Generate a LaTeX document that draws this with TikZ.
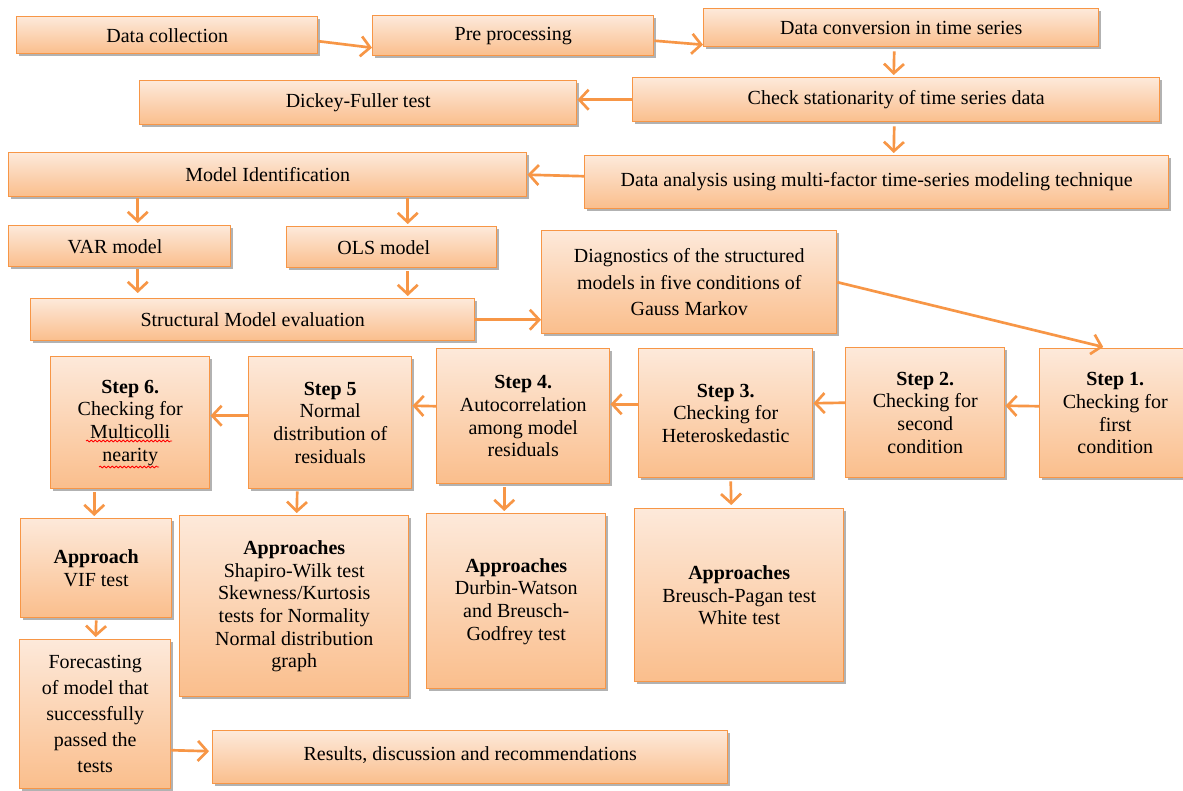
\documentclass[tikz,border=0pt]{standalone}
\usepackage{fontspec}
\setmainfont{Liberation Serif}
\usetikzlibrary{arrows.meta,shadows,calc,decorations.pathmorphing}
\definecolor{obord}{RGB}{247,150,70}
\definecolor{otop}{RGB}{253,233,218}
\definecolor{obot}{RGB}{250,190,140}
\tikzset{
  bx/.style={draw=obord, line width=1.1pt, top color=otop, bottom color=obot,
    align=center, inner sep=2pt, font=\fontsize{15}{17}\selectfont,
    drop shadow={shadow xshift=2pt, shadow yshift=-2pt, opacity=0.3, fill=black}},
  arr/.style={draw=obord, line width=2pt, -{Straight Barb[length=7pt,width=15pt]}},
  squig/.style={draw=red, line width=0.6pt, decorate, decoration={snake, amplitude=0.7pt, segment length=3pt}}
}
\newcommand\mybox[7][]{\node[bx,#1, anchor=north west, minimum width={(#5-#3)*0.75pt}, minimum height={(#6-#4)*0.75pt}] (#2) at (#3,#4) {#7};}
\begin{document}
\begin{tikzpicture}[x=0.75pt, y=-0.75pt]
\fill[white] (0,0) rectangle (1183,791);
\useasboundingbox (0,0) rectangle (1183,791);
% row 1
\mybox{dc}{16}{16}{317}{53}{Data collection}
\mybox{pp}{372}{15}{653}{55}{Pre processing}
\mybox{dcv}{703}{8}{1098}{46}{Data conversion in time series}
% row 2
\mybox{df}{139}{80}{576}{124}{Dickey-Fuller test}
\mybox{cs}{632}{77}{1159}{121}{Check stationarity of time series data}
% row 3
\mybox{mi}{8}{152}{526}{196}{Model Identification}
\mybox{da}{584}{155}{1168}{208}{\raisebox{4pt}{Data analysis using multi-factor time-series modeling technique}}
% row 4
\mybox{var}{8}{225}{230}{266}{VAR model\hspace*{7pt}}
\mybox{ols}{286}{226}{496}{267}{OLS model\hspace*{12pt}}
\mybox[font=\fontsize{15}{20}\selectfont]{diag}{541}{230}{836}{333}{Diagnostics of the structured\\models in five conditions of\\Gauss Markov}
\mybox{sme}{30}{298}{474}{340}{Structural Model evaluation}
% steps
\mybox{s6}{50}{356}{209}{488}{\textbf{Step 6.}\\Checking for\\Multicolli\\nearity}
\mybox{s5}{248}{356}{411}{488}{\textbf{Step 5}\\Normal\\distribution of\\residuals}
\mybox{s4}{436}{348}{609}{483}{\textbf{Step 4.}\\Autocorrelation\\among model\\residuals}
\mybox{s3}{638}{348}{812}{477}{\textbf{Step 3.}\\Checking for\\Heteroskedastic}
\mybox{s2}{845}{347}{1004}{477}{\textbf{Step 2.}\\Checking for\\second\\condition}
\mybox{s1}{1039}{348}{1190}{477}{\textbf{Step 1.}\\Checking for\\first\\condition}
% approaches
\mybox{a6}{20}{518}{171}{617}{\textbf{Approach}\\VIF test}
\mybox{a5}{179}{515}{408}{696}{\textbf{Approaches}\\Shapiro-Wilk test\\Skewness/Kurtosis\hspace*{1.5em}\\tests for Normality\hspace*{1.5em}\\Normal distribution\\graph}
\mybox{a4}{426}{513}{605}{688}{\textbf{Approaches}\\Durbin-Watson\\and Breusch-\\Godfrey test}
\mybox{a3}{634}{508}{843}{681}{\textbf{Approaches}\\Breusch-Pagan test\\White test}
% bottom
\mybox[font=\fontsize{15}{19.5}\selectfont]{fc}{19}{639}{170}{788}{Forecasting\\of model that\\successfully\\passed the\\tests}
\mybox{res}{212}{730}{727}{783}{\raisebox{5pt}{Results, discussion and recommendations}}
% spell-check squiggles
\path[squig] (86,441) -- (172,441);
\path[squig] (99,467) -- (159,467);
% connectors
\draw[arr] ($(dc.east)+(0,6)$) -- ($(pp.west)+(0,12)$);
\draw[arr] ($(pp.east)+(0,5)$) -- ($(dcv.west)+(0,17)$);
\draw[arr] ($(dcv.south)+(-7,4)$) -- ($(cs.north)+(-2.5,-2)$);
\draw[arr] (cs.west) -- (cs.west -| df.east);
\draw[arr] ($(cs.south)+(-2,4)$) -- ($(da.north)+(17,-2)$);
\draw[arr] ($(da.west)+(0,-6)$) -- (mi.east);
\draw[arr] ($(var.north)+(18,-27)$) -- ($(var.north)+(18,-2)$);
\draw[arr] ($(ols.north)+(16,-28)$) -- ($(ols.north)+(16,-2)$);
\draw[arr] ($(var.south)+(18,2)$) -- ($(sme.north)+(-115,-5)$);
\draw[arr] ($(ols.south)+(16,3)$) -- ($(sme.north)+(155,-2)$);
\draw[arr] (sme.east) -- (sme.east -| diag.west);
\draw[arr] (diag.east) -- ($(s1.north)+(-12,-1)$);
\draw[arr] ($(s1.west)+(0,-7)$) -- ($(s2.east)+(0,-7)$);
\draw[arr] ($(s2.west)+(0,-10)$) -- ($(s3.east)+(0,-10)$);
\draw[arr] ($(s3.west)+(0,-9)$) -- ($(s4.east)+(0,-12)$);
\draw[arr] ($(s4.west)+(0,-10)$) -- ($(s5.east)+(0,-17)$);
\draw[arr] ($(s5.west)+(0,-7)$) -- ($(s6.east)+(0,-7)$);
\draw[arr] ($(s6.south)+(-36,3)$) -- ($(a6.north)+(-2,-2)$);
\draw[arr] ($(s5.south)+(-33,2)$) -- ($(a5.north)+(2.5,-2)$);
\draw[arr] ($(s4.south)+(-19,3)$) -- ($(a4.north)+(-12,-2)$);
\draw[arr] ($(s3.south)+(5,3)$) -- ($(a3.north)+(-8,-3)$);
\draw[arr] ($(a6.south)+(0,2)$) -- ($(fc.north)+(0.5,-2)$);
\draw[arr] ($(fc.east)+(0,36)$) -- ($(res.west)+(-3,-6)$);
\end{tikzpicture}
\end{document}
